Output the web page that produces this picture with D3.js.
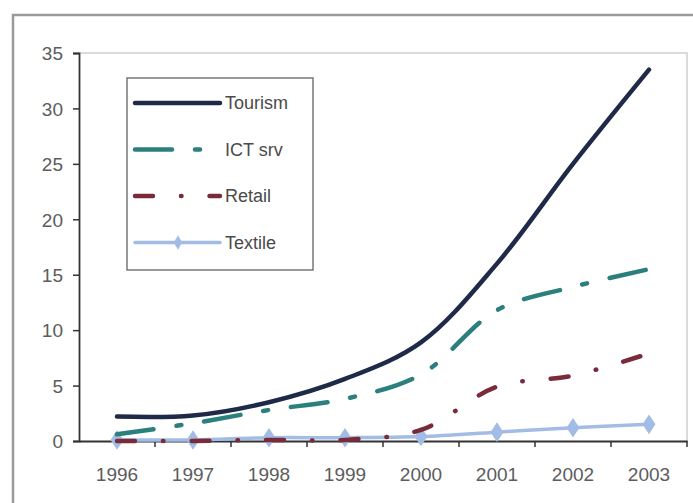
<!DOCTYPE html>
<html>
<head>
<meta charset="utf-8">
<script src="https://cdnjs.cloudflare.com/ajax/libs/d3/7.8.5/d3.min.js"></script>
<style>
  body { margin: 0; background: #fff; }
  text { font-family: "Liberation Sans", Arial, sans-serif; }
</style>
</head>
<body>
<div id="chart-area"></div>
<script>
var years = ["1996", "1997", "1998", "1999", "2000", "2001", "2002", "2003"];
var tourism = [2.2, 2.3, 3.5, 5.6, 8.9, 16.0, 25.0, 33.5];
var ictSrv = [0.6, 1.6, 2.8, 3.8, 6.0, 11.8, 13.9, 15.5];
var retail = [0, 0, 0.1, 0.1, 1.0, 4.9, 5.9, 7.9];
var textile = [0.1, 0.1, 0.3, 0.3, 0.4, 0.8, 1.2, 1.5];
var yTicks = [0, 5, 10, 15, 20, 25, 30, 35];

var series = [
  {name: "Tourism", values: tourism, color: "#1e2a48", dash: null, width: 4.5},
  {name: "ICT srv", values: ictSrv, color: "#2b7f7c", dash: "37,23,5,23", width: 4.5},
  {name: "Retail", values: retail, color: "#7a2b3a", dash: "18,28,0.5,28", width: 4.5},
  {name: "Textile", values: textile, color: "#a3bce6", dash: null, width: 3.5, marker: true}
];

var svg = d3.select("#chart-area").append("svg")
    .attr("width", 693)
    .attr("height", 503);

// outer chart border (only left & top visible in frame)
svg.append("rect")
    .attr("x", 13).attr("y", 15)
    .attr("width", 700).attr("height", 520)
    .attr("fill", "none")
    .attr("stroke", "#9a9a9a")
    .attr("stroke-width", 2.5);

var plotL = 79, plotR = 687, plotT = 53, plotB = 441;

var x = d3.scaleBand()
    .domain(years)
    .range([plotL, plotR]);

var y = d3.scaleLinear()
    .domain([0, 35])
    .range([plotB, plotT]);

// plot area border
svg.append("path")
    .attr("d", "M" + plotL + "," + plotT + "H" + plotR + "V" + plotB)
    .attr("fill", "none")
    .attr("stroke", "#cfcfcf")
    .attr("stroke-width", 1.5);

var yAxis = svg.append("g")
    .attr("transform", "translate(" + plotL + ",0)")
    .call(d3.axisLeft(y).tickValues(yTicks).tickSize(6).tickPadding(10));

var xAxis = svg.append("g")
    .attr("transform", "translate(0," + plotB + ")")
    .call(d3.axisBottom(x).tickSize(0).tickPadding(30));

// ticks between categories
xAxis.selectAll(".between")
    .data(years)
    .enter().append("line")
    .attr("x1", (d) => x(d) + x.bandwidth())
    .attr("x2", (d) => x(d) + x.bandwidth())
    .attr("y1", 0).attr("y2", 6)
    .attr("stroke", "#333").attr("stroke-width", 1.5);

[yAxis, xAxis].forEach((g) => {
  g.select(".domain").attr("stroke", "#333").attr("stroke-width", 1.8);
  g.selectAll(".tick line").attr("stroke", "#333").attr("stroke-width", 1.5);
  g.selectAll("text")
      .attr("font-size", 19)
      .attr("fill", "#5c5c5c")
      .attr("font-family", "Liberation Sans, Arial, sans-serif");
});
xAxis.selectAll("text").attr("dy", "0.5em");
yAxis.selectAll("text").attr("dy", "0.36em");

var line = d3.line()
    .x((d, i) => x(years[i]) + x.bandwidth() / 2)
    .y((d) => y(d))
    .curve(d3.curveCatmullRom.alpha(0.5));

series.slice().reverse().forEach((s) => {
  svg.append("path")
      .datum(s.values)
      .attr("d", line)
      .attr("fill", "none")
      .attr("stroke", s.color)
      .attr("stroke-width", s.width)
      .attr("stroke-linecap", "round")
      .attr("stroke-dasharray", s.dash);
  if (s.marker) {
    svg.selectAll(".mk")
        .data(s.values)
        .enter().append("path")
        .attr("d", d3.symbol().type(d3.symbolDiamond).size(110))
        .attr("transform", (d, i) => "translate(" + (x(years[i]) + x.bandwidth() / 2) + "," + y(d) + ") scale(1.15,1)")
        .attr("fill", s.color);
  }
});

// legend
var legend = svg.append("g");
legend.append("rect")
    .attr("x", 127).attr("y", 78)
    .attr("width", 186).attr("height", 192)
    .attr("fill", "#fff")
    .attr("stroke", "#777")
    .attr("stroke-width", 1.5);

var item = legend.selectAll(".item")
    .data(series)
    .enter().append("g")
    .attr("transform", (d, i) => "translate(0," + (103 + i * 46.5) + ")");

item.append("line")
    .attr("x1", 135).attr("x2", 220)
    .attr("y1", 0).attr("y2", 0)
    .attr("stroke", (d) => d.color)
    .attr("stroke-width", (d) => d.width)
    .attr("stroke-linecap", "round")
    .attr("stroke-dasharray", (d) => d.dash);

item.filter((d) => d.marker).append("path")
    .attr("d", d3.symbol().type(d3.symbolDiamond).size(60))
    .attr("transform", "translate(178,0)")
    .attr("fill", (d) => d.color);

item.append("text")
    .attr("x", 225).attr("y", 6)
    .attr("font-size", 18)
    .attr("fill", "#4a4a4a")
    .text((d) => d.name);
</script>
</body>
</html>
